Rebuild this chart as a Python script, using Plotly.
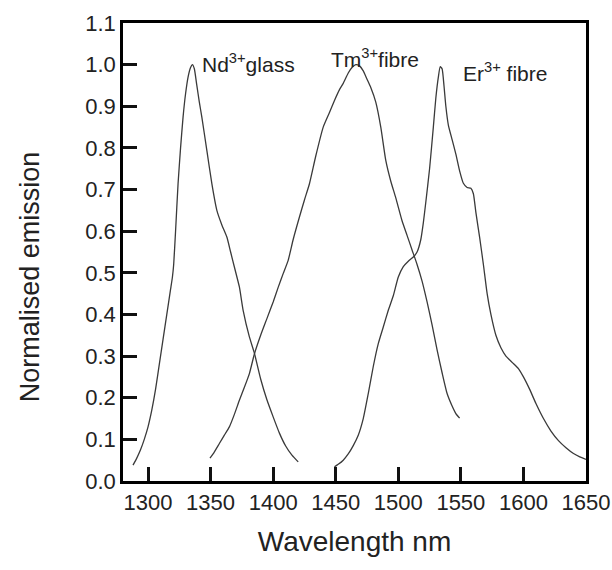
import plotly.graph_objects as go

# Nd3+ glass emission
nd_wl = [1288, 1291, 1294, 1297, 1300, 1303, 1306, 1309, 1312, 1315, 1318, 1319.5, 1320.5, 1322, 1324, 1326,
         1328, 1330, 1332, 1334, 1335.5, 1337, 1339, 1341, 1343, 1347, 1351, 1355, 1359, 1363, 1366,
         1369, 1373, 1376, 1381, 1385, 1390, 1395, 1400, 1405, 1410, 1415, 1420]
nd_em = [0.038, 0.055, 0.075, 0.10, 0.13, 0.17, 0.22, 0.28, 0.34, 0.40, 0.46, 0.49, 0.52, 0.60, 0.714, 0.80,
         0.874, 0.93, 0.97, 0.993, 1.0, 0.99, 0.95, 0.91, 0.874, 0.794, 0.714, 0.65, 0.615, 0.586, 0.55,
         0.514, 0.466, 0.41, 0.346, 0.307, 0.245, 0.195, 0.154, 0.115, 0.084, 0.062, 0.046]

# Tm3+ fibre emission
tm_wl = [1349.5, 1352, 1357, 1361, 1365, 1369, 1373, 1377, 1381, 1385, 1390, 1395, 1400, 1404, 1408,
         1412, 1416, 1421, 1425, 1429, 1434, 1440, 1445, 1449, 1453, 1456, 1460, 1463, 1466, 1469, 1472, 1475,
         1478, 1482, 1486, 1490, 1494, 1498, 1503, 1507, 1511, 1515, 1519, 1523, 1527, 1531, 1535, 1539, 1543,
         1546, 1549]
tm_em = [0.055, 0.065, 0.09, 0.11, 0.13, 0.16, 0.194, 0.225, 0.258, 0.305, 0.35, 0.39, 0.43, 0.465, 0.498,
         0.53, 0.58, 0.634, 0.675, 0.714, 0.78, 0.85, 0.885, 0.914, 0.94, 0.955, 0.98, 0.993, 1.0, 0.997, 0.985, 0.965,
         0.945, 0.91, 0.85, 0.77, 0.72, 0.68, 0.625, 0.59, 0.555, 0.52, 0.48, 0.43, 0.375, 0.315, 0.26, 0.21, 0.18,
         0.162, 0.151]

# Er3+ fibre emission
er_wl = [1449, 1452, 1456, 1460, 1464, 1468, 1472, 1476, 1480, 1484, 1488, 1492, 1496, 1500, 1504, 1508,
         1512, 1515, 1518, 1520, 1522, 1525, 1528, 1530, 1532, 1533.5, 1535, 1536.5, 1538, 1540, 1543, 1546,
         1549, 1552, 1555, 1558, 1560, 1562, 1565, 1568, 1571, 1574, 1578, 1582, 1586, 1591, 1596, 1600,
         1605, 1610, 1616, 1622, 1628, 1634, 1640, 1645, 1650]
er_em = [0.034, 0.04, 0.05, 0.065, 0.085, 0.11, 0.15, 0.21, 0.275, 0.33, 0.37, 0.41, 0.445, 0.49, 0.515, 0.528,
         0.538, 0.55, 0.58, 0.62, 0.67, 0.75, 0.85, 0.92, 0.97, 0.995, 0.99, 0.95, 0.9, 0.855, 0.82, 0.785,
         0.745, 0.715, 0.705, 0.703, 0.69, 0.645, 0.585, 0.52, 0.45, 0.40, 0.35, 0.32, 0.30, 0.285, 0.27, 0.25,
         0.22, 0.186, 0.15, 0.12, 0.097, 0.08, 0.066, 0.058, 0.052]

labels = ["Nd<sup>3+</sup>glass", "Tm<sup>3+</sup>fibre", "Er<sup>3+</sup> fibre"]
label_x = [1341.5, 1445, 1550.4]
label_y = [1.005, 1.015, 0.983]

FONT = "Liberation Sans, Arial, Helvetica, sans-serif"
LINE = dict(color="#3a3a3a", width=1.3, shape="spline", smoothing=0.5)

fig = go.Figure()
for wl, em in [(nd_wl, nd_em), (tm_wl, tm_em), (er_wl, er_em)]:
    fig.add_trace(go.Scatter(x=wl, y=em, mode="lines", line=LINE, showlegend=False))

for t, x, y in zip(labels, label_x, label_y):
    fig.add_annotation(x=x, y=y, text=t, showarrow=False, xanchor="left", yanchor="middle",
                       font=dict(family=FONT, size=21, color="#222"))

fig.add_annotation(xref="paper", yref="paper", x=0, y=0.445, xshift=-93, text="Normalised emission",
                   textangle=-90, showarrow=False, xanchor="center", yanchor="middle",
                   font=dict(family=FONT, size=27, color="#222"))

fig.update_xaxes(
    range=[1280, 1650], tickmode="linear", tick0=1300, dtick=50,
    showline=True, linecolor="black", linewidth=2.5, mirror=True,
    ticks="inside", ticklen=14, tickwidth=3, tickcolor="#111111",
    showgrid=False, zeroline=False, layer="above traces",
    tickfont=dict(family=FONT, size=22, color="#222"),
    title=dict(text="Wavelength nm", font=dict(family=FONT, size=28, color="#222"), standoff=18),
)
fig.update_yaxes(
    range=[0, 1.1], tickmode="linear", tick0=0, dtick=0.1, tickformat=".1f",
    showline=True, linecolor="black", linewidth=2.5, mirror=True,
    ticks="inside", ticklen=14, tickwidth=3, tickcolor="#111111",
    showgrid=False, zeroline=False, layer="above traces",
    tickfont=dict(family=FONT, size=22, color="#222"),
)

fig.update_layout(
    width=612, height=570,
    margin=dict(l=123, r=26, t=23, b=89, autoexpand=False),
    paper_bgcolor="white", plot_bgcolor="white",
    font=dict(family=FONT, color="#222"),
)

fig.write_html("out.html")
